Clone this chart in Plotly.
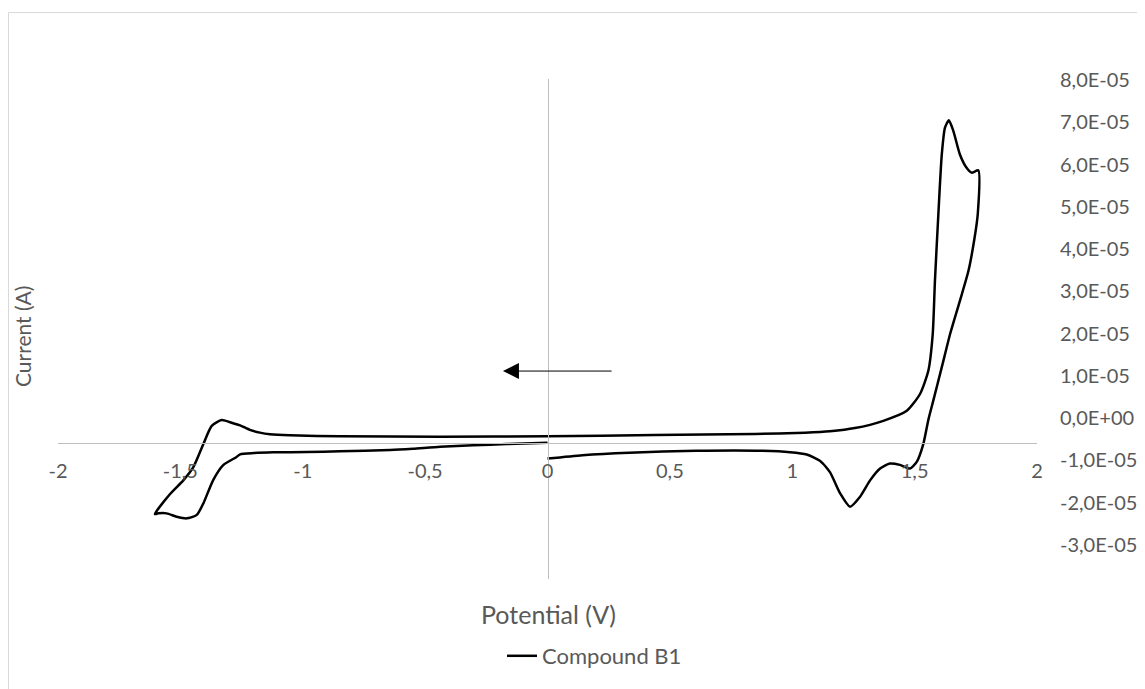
import plotly.graph_objects as go

# ---- data (potential in V, current in A) ----
# segment 1: start at 0 V, scan towards negative potentials (lower-left branch)
pot_seg1 = [0.0, -0.167, -0.304, -0.439, -0.55, -0.643, -0.848, -0.984, -1.12, -1.2, -1.256,
            -1.272, -1.325, -1.366, -1.406, -1.433, -1.474, -1.515, -1.556, -1.59, -1.604]
cur_seg1 = [-0.05e-6, -0.31e-6, -0.6e-6, -0.9e-6, -1.34e-6, -1.63e-6, -1.91e-6, -2.07e-6, -2.13e-6,
            -2.3e-6, -2.57e-6, -3.2e-6, -4.93e-6, -8.23e-6, -1.336e-5, -1.59e-5, -1.666e-5,
            -1.63e-5, -1.556e-5, -1.556e-5, -1.571e-5]

# segment 2: reverse scan from -1.6 V up to the positive vertex (upper branch)
pot_seg2 = [-1.542, -1.488, -1.447, -1.406, -1.372, -1.331, -1.284, -1.256, -1.216, -1.175, -1.134,
            -1.052, -0.848, -0.439, 0.0, 0.439, 0.848, 1.052, 1.154, 1.256, 1.372, 1.468, 1.522,
            1.556, 1.574, 1.583, 1.597, 1.611, 1.624, 1.640, 1.658, 1.685, 1.713, 1.733, 1.760]
cur_seg2 = [-1.13e-5, -8.3e-6, -5.4e-6, -0.3e-6, 3.7e-6, 4.98e-6, 4.25e-6, 3.8e-6, 2.8e-6, 2.2e-6,
            1.85e-6, 1.6e-6, 1.4e-6, 1.3e-6, 1.4e-6, 1.67e-6, 1.9e-6, 2.2e-6, 2.5e-6, 3.2e-6, 4.8e-6,
            7.0e-6, 1.07e-5, 1.58e-5, 2.39e-5, 3.56e-5, 5.03e-5, 6.34e-5, 6.93e-5, 7.09e-5, 6.86e-5,
            6.34e-5, 6.04e-5, 5.94e-5, 5.99e-5]

# segment 3: scan back from the positive vertex to 0 V (lower-right branch)
pot_seg3 = [1.758, 1.743, 1.720, 1.685, 1.645, 1.611, 1.576, 1.556, 1.536, 1.508, 1.481, 1.44,
            1.399, 1.359, 1.318, 1.277, 1.236, 1.195, 1.154, 1.113, 1.059, 0.991, 0.878, 0.606,
            0.334, 0.143, 0.0]
cur_seg3 = [5.03e-5, 4.44e-5, 3.78e-5, 3.12e-5, 2.39e-5, 1.66e-5, 9.2e-6, 5.0e-6, -0.2e-6, -4.3e-6,
            -5.7e-6, -4.9e-6, -4.6e-6, -5.7e-6, -8.3e-6, -1.19e-5, -1.41e-5, -1.11e-5, -6.5e-6,
            -4.0e-6, -2.6e-6, -2.1e-6, -1.8e-6, -1.8e-6, -2.2e-6, -2.75e-6, -3.5e-6]

series_name = "Compound B1"

x_tickvals = [-2, -1.5, -1, -0.5, 0, 0.5, 1, 1.5, 2]
x_ticktext = ["-2", "-1,5", "-1", "-0,5", "0", "0,5", "1", "1,5", "2"]
y_tickvals = [8e-5, 7e-5, 6e-5, 5e-5, 4e-5, 3e-5, 2e-5, 1e-5, 0, -1e-5, -2e-5, -3e-5]
y_ticktext = ["8,0E-05", "7,0E-05", "6,0E-05", "5,0E-05", "4,0E-05", "3,0E-05",
              "2,0E-05", "1,0E-05", "0,0E+00", "-1,0E-05", "-2,0E-05", "-3,0E-05"]

# scan-direction arrow (tail -> head), data coords
arrow_tail = (0.268, 1.575e-5)
arrow_head = (-0.182, 1.575e-5)

# ---- figure ----
# the page body has an 8px margin, so the figure starts at page (8, 8)
OFF = 8
W, H = 1145 - OFF, 689 - OFF
L, T = 58 - OFF, 79 - OFF
pw, ph = 979, 500
R, B = W - L - pw, H - T - ph
FONT = "Lato"
GREY = "#595959"
AXIS = "#bfbfbf"

pot = pot_seg1 + pot_seg2 + pot_seg3
cur = cur_seg1 + cur_seg2 + cur_seg3

fig = go.Figure()
fig.add_trace(go.Scatter(
    x=pot, y=cur, mode="lines", name=series_name,
    line=dict(color="black", width=2.5, shape="spline", smoothing=0.6),
    showlegend=True,
))

# helpers: page pixel -> paper fraction
def px_x(p):
    return (p - OFF - L) / pw

def px_y(p):
    return (OFF + T + ph - p) / ph

fig.update_layout(
    width=W, height=H, autosize=False,
    margin=dict(l=L, r=R, t=T, b=B, pad=0, autoexpand=False),
    paper_bgcolor="white", plot_bgcolor="white",
    font=dict(family=FONT, color=GREY, size=20),
    xaxis=dict(
        range=[-2, 2], anchor="free", position=3 / 11, automargin=False,
        showgrid=False, zeroline=False,
        showline=True, linecolor=AXIS, linewidth=1,
        tickmode="array", tickvals=x_tickvals, ticktext=x_ticktext,
        ticks="", ticklabelstandoff=10,
        tickfont=dict(family=FONT, color=GREY, size=20),
    ),
    yaxis=dict(
        range=[-3e-5, 8e-5], domain=[0, 1], automargin=False,
        anchor="free", position=0.5,
        showgrid=False, zeroline=False,
        showline=True, linecolor=AXIS, linewidth=1,
        showticklabels=False, ticks="",
    ),
    # tick-label axis on the right (labels are spaced as in the reference picture)
    yaxis2=dict(
        overlaying="y", side="right", anchor="x", automargin=False,
        range=[8e-5 - (579 - 80) / 42.27 * 1e-5, 8e-5 + 1 / 42.27 * 1e-5],
        showgrid=False, zeroline=False, showline=False, ticks="",
        tickmode="array", tickvals=y_tickvals, ticktext=y_ticktext,
        ticklabelstandoff=22,
        tickfont=dict(family=FONT, color=GREY, size=20),
    ),
    legend=dict(
        orientation="h", x=px_x(502), y=px_y(656), xanchor="left", yanchor="middle",
        font=dict(family=FONT, color=GREY, size=22), bgcolor="rgba(0,0,0,0)",
    ),
    showlegend=True,
)

fig.add_trace(go.Scatter(x=[], y=[], yaxis="y2", showlegend=False, hoverinfo="skip"))

fig.add_annotation(
    x=arrow_head[0], y=arrow_head[1], ax=arrow_tail[0], ay=arrow_tail[1],
    xref="x", yref="y", axref="x", ayref="y", text="",
    showarrow=True, arrowhead=2, arrowsize=3.2, arrowwidth=1, arrowcolor="black",
    standoff=0, startstandoff=0,
)

fig.add_annotation(
    text="Potential (V)", x=px_x(548), y=px_y(614), xref="paper", yref="paper",
    showarrow=False, xanchor="center", yanchor="middle",
    font=dict(family=FONT, color=GREY, size=25),
)
fig.add_annotation(
    text="Current (A)", x=px_x(22), y=px_y(337), xref="paper", yref="paper",
    showarrow=False, xanchor="center", yanchor="middle", textangle=-90,
    font=dict(family=FONT, color=GREY, size=21),
)

# chart-area frame
fig.add_shape(
    type="rect", xref="paper", yref="paper", layer="below",
    x0=px_x(8.5), x1=px_x(1160), y0=px_y(700), y1=px_y(12.5),
    line=dict(color="#d9d9d9", width=1), fillcolor="rgba(0,0,0,0)",
)

fig.write_html("out.html")
